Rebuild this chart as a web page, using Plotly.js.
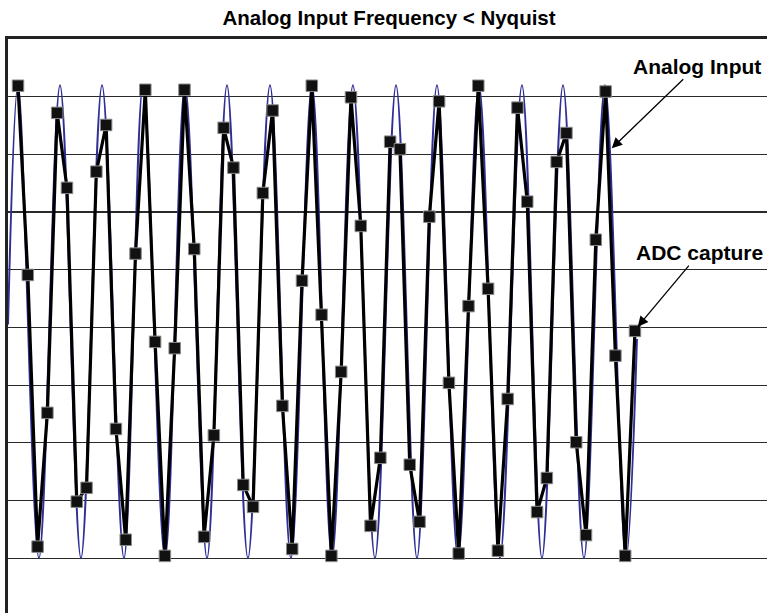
<!DOCTYPE html>
<html>
<head>
<meta charset="utf-8">
<script src="https://cdn.plot.ly/plotly-3.0.1.min.js"></script>
<style>
  html, body { margin: 0; padding: 0; background: #fff; }
  #chart { width: 767px; height: 613px; }
</style>
</head>
<body>
<div id="chart"></div>
<script>
// ADC capture: sample index and captured level (grid units, ±4 = outer gridlines)
const adcSample = [0,1,2,3,4,5,6,7,8,9,10,11,12,13,14,15,16,17,18,19,20,21,22,23,24,25,26,27,28,29,30,31,
                   32,33,34,35,36,37,38,39,40,41,42,43,44,45,46,47,48,49,50,51,52,53,54,55,56,57,58,59,60,61,62,63];
const adcValue = [4.19, 0.91, -3.80, -1.48, 3.72, 2.42, -3.02, -2.78, 2.70, 3.51, -1.76, -3.68, 1.28, 4.12, -0.25, -3.96,
                  -0.36, 4.12, 1.36, -3.63, -1.87, 3.46, 2.77, -2.73, -3.11, 2.33, 3.76, -1.36, -3.84, 0.81, 4.19, 0.22,
                  -3.96, -0.77, 3.99, 1.76, -3.44, -2.26, 3.22, 3.09, -2.38, -3.37, 1.92, 3.92, -0.96, -3.92, 0.37, 4.19,
                  0.67, -3.87, -1.24, 3.81, 2.18, -3.20, -2.61, 2.87, 3.37, -1.99, -3.60, 1.52, 4.09, -0.49, -3.96, -0.06];

// Analog input: turning points (peaks / troughs), in sample units
const analogTime  = [-1.02, 0.00, 2.14, 4.29, 6.43, 8.58, 10.82, 12.76, 15.01, 17.05, 19.30, 21.34, 23.48, 25.73, 27.87,
                     30.02, 32.06, 34.20, 36.45, 38.60, 40.74, 42.78, 44.93, 47.07, 49.21, 51.46, 53.50, 55.65, 57.79,
                     59.93, 62.08, 63.20];
const analogValue = [0.05, 4.2, -4.0, 4.2, -4.0, 4.2, -4.0, 4.2, -4.0, 4.2, -4.0, 4.2, -4.0, 4.2, -4.0,
                     4.2, -4.0, 4.2, -4.0, 4.2, -4.0, 4.2, -4.0, 4.2, -4.0, 4.2, -4.0, 4.2, -4.0,
                     4.2, -4.0, -0.2];

const titleText = 'Analog Input Frequency &lt; Nyquist';
const labelAnalog = 'Analog Input';
const labelAdc = 'ADC capture';

const FONT = 'Liberation Sans, Arial, Helvetica, sans-serif';

const traces = [
  {
    x: analogTime, y: analogValue,
    type: 'scatter', mode: 'lines',
    line: { color: '#2f2f96', width: 2, shape: 'spline', smoothing: 1 },
    hoverinfo: 'skip', showlegend: false
  },
  {
    x: adcSample, y: adcValue,
    type: 'scatter', mode: 'lines+markers',
    line: { color: '#000', width: 3.2 },
    marker: { symbol: 'square', size: 11.5, color: '#111', line: { color: '#8a8a8a', width: 1 } },
    hoverinfo: 'skip', showlegend: false
  }
];

const layout = {
  width: 767, height: 613,
  margin: { l: 8, r: 0, t: 39, b: 0, pad: 0 },
  paper_bgcolor: '#fff', plot_bgcolor: '#fff',
  font: { family: FONT, color: '#000' },
  title: {
    text: '<b>' + titleText + '</b>',
    font: { family: FONT, size: 20.5, color: '#000' },
    x: 389 / 767, xanchor: 'center', xref: 'container',
    y: 1 - 18 / 613, yanchor: 'middle', yref: 'container'
  },
  xaxis: {
    range: [-1.021, 76.48],
    side: 'top',
    showline: true, linecolor: '#222', linewidth: 2.8,
    showgrid: false, zeroline: false,
    showticklabels: false, ticks: ''
  },
  yaxis: {
    range: [-4.95, 5.0],
    showline: true, linecolor: '#222', linewidth: 2.8,
    showgrid: true, gridcolor: '#2a2a2a', gridwidth: 1.2,
    tick0: 0, dtick: 1,
    zeroline: false,
    showticklabels: false, ticks: ''
  },
  annotations: [
    {
      xref: 'paper', yref: 'paper', x: 0.7954, y: 0.8096,
      ax: 85, ay: -82,
      text: '<b>' + labelAnalog + '</b>',
      font: { family: FONT, size: 21, color: '#000' },
      showarrow: true, arrowhead: 2, arrowsize: 1.6, arrowwidth: 1.3, arrowcolor: '#000'
    },
    {
      xref: 'paper', yref: 'paper', x: 0.8297, y: 0.4988,
      ax: 62, ay: -74,
      text: '<b>' + labelAdc + '</b>',
      font: { family: FONT, size: 21, color: '#000' },
      showarrow: true, arrowhead: 2, arrowsize: 1.6, arrowwidth: 1.3, arrowcolor: '#000'
    }
  ]
};

Plotly.newPlot('chart', traces, layout, { displayModeBar: false, staticPlot: true });
</script>
</body>
</html>
